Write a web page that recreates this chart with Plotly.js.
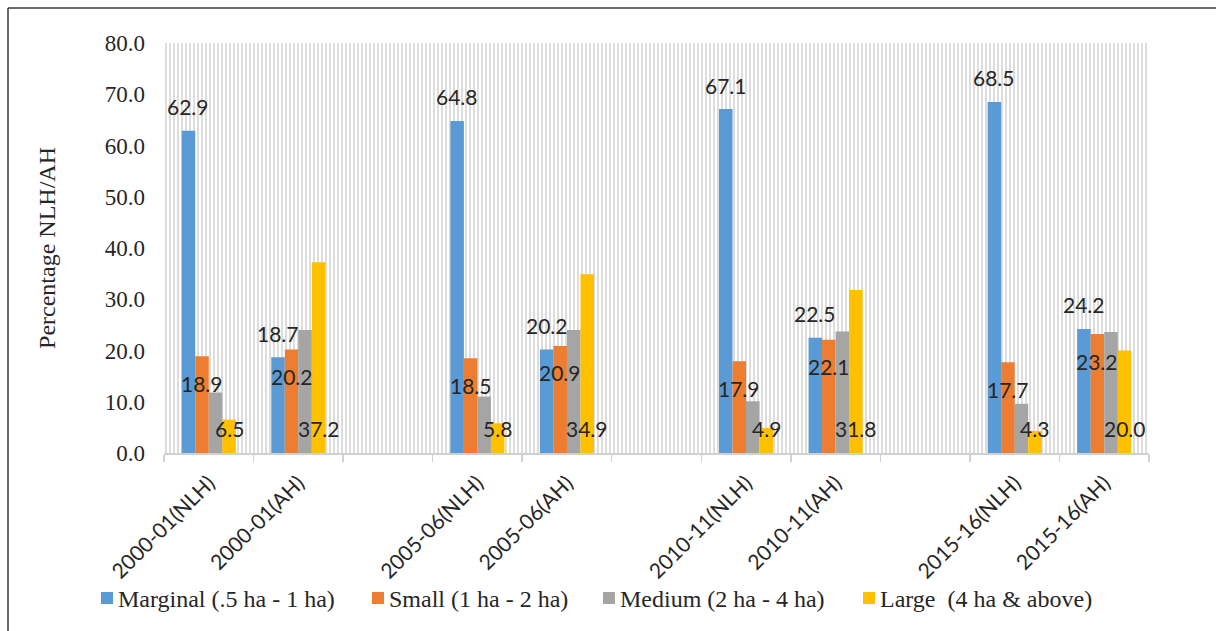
<!DOCTYPE html>
<html>
<head>
<meta charset="utf-8">
<script src="https://cdn.plot.ly/plotly-3.0.1.min.js"></script>
<style>
  html, body { margin: 0; padding: 0; background: #ffffff; }
  #chart { width: 1216px; height: 631px; }
</style>
</head>
<body>
<div id="chart"></div>
<script>
// Categories along the x axis; blank entries leave a gap between survey years
const categories = [
  '2000-01(NLH)', '2000-01(AH)', ' ',
  '2005-06(NLH)', '2005-06(AH)', '  ',
  '2010-11(NLH)', '2010-11(AH)', '   ',
  '2015-16(NLH)', '2015-16(AH)'
];

// Share of holdings (%) by farm size class
const marginal = [62.9, 18.7, null, 64.8, 20.2, null, 67.1, 22.5, null, 68.5, 24.2];
const small    = [18.9, 20.2, null, 18.5, 20.9, null, 17.9, 22.1, null, 17.7, 23.2];
const medium   = [11.8, 24.0, null, 11.0, 24.0, null, 10.1, 23.7, null,  9.6, 23.6];
const large    = [ 6.5, 37.2, null,  5.8, 34.9, null,  4.9, 31.8, null,  4.3, 20.0];

const seriesNames = [
  'Marginal (.5 ha - 1 ha)',
  'Small (1 ha - 2 ha)',
  'Medium (2 ha - 4 ha)',
  'Large \u00a0(4 ha & above)'
];

const yTicks = [0, 10, 20, 30, 40, 50, 60, 70, 80];

const colors = ['#5B9BD5', '#ED7D31', '#A5A5A5', '#FFC000'];
const seriesValues = [marginal, small, medium, large];

// figure geometry
const FIG_W = 1216, FIG_H = 631;
const M = { l: 164, r: 67, t: 43, b: 178 };
const PW = FIG_W - M.l - M.r, PH = FIG_H - M.t - M.b;
const px2x = px => (px - M.l) / PW;          // figure pixel -> paper x
const px2y = py => (FIG_H - M.b - py) / PH;  // figure pixel -> paper y

// bar width in category units, four bars side by side per category
const W = 0.151;
const offsets = [-2 * W, -W, 0, W];

const serif = 'Liberation Serif';
const sans = 'Lato';

// hatched backdrop filling the plotting area
const backdrop = {
  type: 'bar',
  x: [categories[0]],
  y: [yTicks[yTicks.length - 1]],
  offset: -0.5,
  width: categories.length,
  marker: {
    color: '#ffffff',
    line: { width: 0 },
    pattern: { shape: '|', fgcolor: '#bcbcbc', bgcolor: '#ffffff', size: 4, solidity: 0.25 }
  },
  hoverinfo: 'skip',
  showlegend: false
};

const traces = [backdrop];
seriesValues.forEach((vals, s) => {
  traces.push({
    type: 'bar',
    name: seriesNames[s],
    x: categories,
    y: vals,
    offset: offsets[s],
    width: W,
    marker: { color: colors[s], line: { width: 0 } },
    showlegend: false
  });
});

// value labels: marginal above the bar, small inside the top, large at the base
const annotations = [];
const labelFont = { family: sans, size: 21, color: '#262626' };
categories.forEach((c, i) => {
  const cx = s => i + offsets[s] + W / 2;
  if (marginal[i] !== null) {
    annotations.push({ x: cx(0), y: marginal[i], xref: 'x', yref: 'y', text: marginal[i].toFixed(1),
      showarrow: false, yshift: 24, font: labelFont });
  }
  if (small[i] !== null) {
    annotations.push({ x: cx(1), y: small[i], xref: 'x', yref: 'y', text: small[i].toFixed(1),
      showarrow: false, yshift: -27, font: labelFont });
  }
  if (large[i] !== null) {
    annotations.push({ x: cx(3), y: 0, xref: 'x', yref: 'y', text: large[i].toFixed(1),
      showarrow: false, yshift: 25, font: labelFont });
  }
});

// outer frame of the chart
const frame = { color: '#3a3a3a', width: 1.5 };
const shapes = [
  { type: 'line', xref: 'paper', yref: 'paper', x0: px2x(8), x1: px2x(1240), y0: px2y(8), y1: px2y(8), line: frame },
  { type: 'line', xref: 'paper', yref: 'paper', x0: px2x(8), x1: px2x(8), y0: px2y(8), y1: px2y(660), line: frame }
];

// legend row below the axis: colour key followed by the series name
const legendKeyLeft = [101, 372, 603, 863];
const legendY = 598;
seriesNames.forEach((name, s) => {
  const x0 = legendKeyLeft[s];
  shapes.push({
    type: 'rect', xref: 'paper', yref: 'paper',
    x0: px2x(x0), x1: px2x(x0 + 12), y0: px2y(legendY - 6), y1: px2y(legendY + 6),
    fillcolor: colors[s], line: { width: 0 }
  });
  annotations.push({
    xref: 'paper', yref: 'paper', x: px2x(x0 + 15), y: px2y(legendY + 1),
    xanchor: 'left', yanchor: 'middle', showarrow: false, text: name,
    font: { family: serif, size: 24, color: '#262626' }
  });
});

const layout = {
  width: FIG_W,
  height: FIG_H,
  margin: M,
  paper_bgcolor: '#ffffff',
  plot_bgcolor: '#ffffff',
  barmode: 'overlay',
  showlegend: false,
  xaxis: {
    type: 'category',
    categoryorder: 'array',
    categoryarray: categories,
    range: [-0.5, categories.length - 0.5],
    tickson: 'boundaries',
    ticks: 'outside',
    ticklen: 7,
    tickwidth: 1.5,
    tickcolor: '#d0d0d0',
    showline: true,
    linecolor: '#d0d0d0',
    linewidth: 1.5,
    showgrid: false,
    zeroline: false,
    tickangle: -45,
    ticklabelstandoff: 8,
    tickfont: { family: sans, size: 21, color: '#262626' },
    automargin: false,
    fixedrange: true
  },
  yaxis: {
    range: [0, 80],
    tickvals: yTicks,
    ticktext: yTicks.map(v => v.toFixed(1)),
    showgrid: false,
    zeroline: false,
    showline: false,
    ticks: '',
    ticklabelstandoff: 18,
    tickfont: { family: serif, size: 23, color: '#262626' },
    title: { text: 'Percentage NLH/AH', font: { family: serif, size: 24, color: '#262626' }, standoff: 42 },
    automargin: false,
    fixedrange: true
  },
  annotations: annotations,
  shapes: shapes
};

Plotly.newPlot('chart', traces, layout, { displayModeBar: false, staticPlot: true });
</script>
</body>
</html>
